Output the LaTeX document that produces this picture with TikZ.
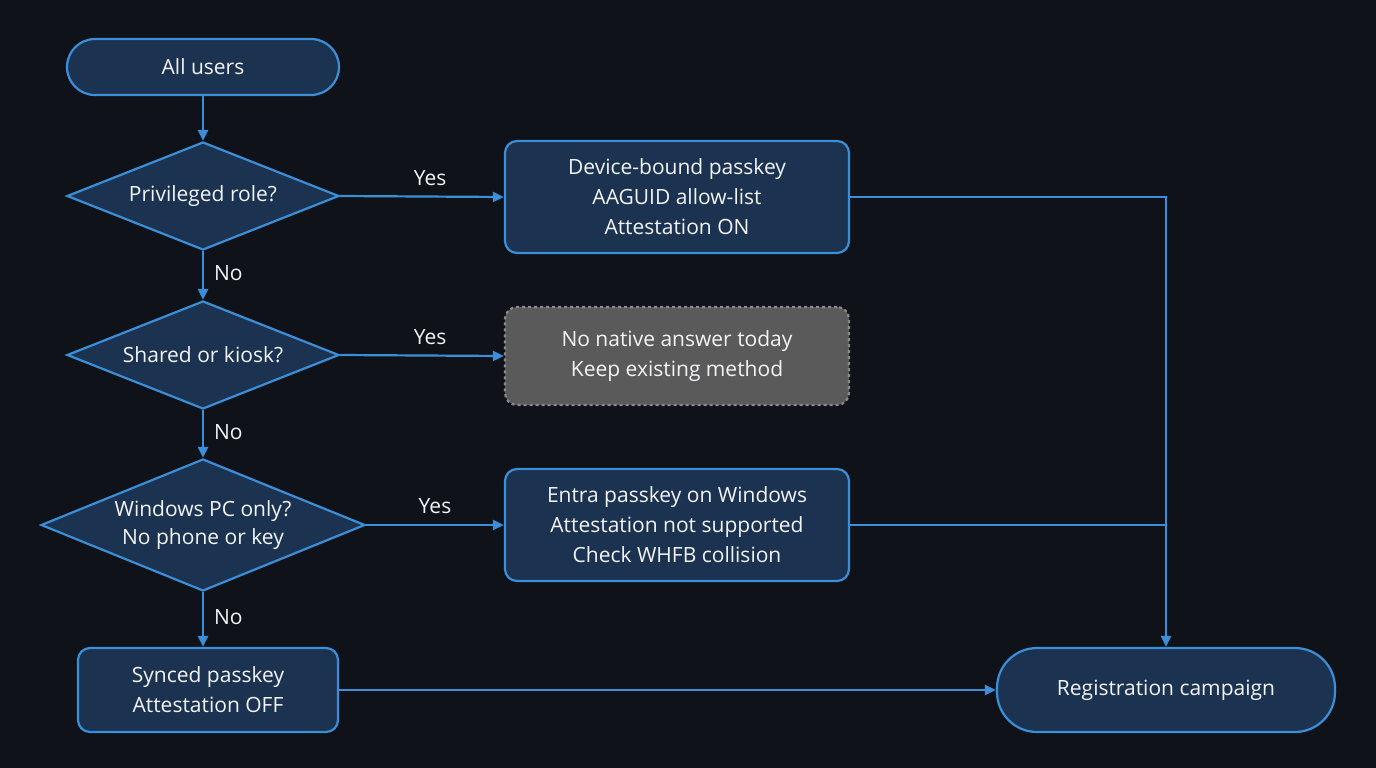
\documentclass[tikz,border=0pt]{standalone}
\usepackage{fontspec}
\setmainfont{Open Sans}
\usetikzlibrary{shapes.geometric,arrows.meta}
\definecolor{bg}{HTML}{0F1218}
\definecolor{nfill}{HTML}{1B3250}
\definecolor{nline}{HTML}{3A8FD8}
\definecolor{gfill}{HTML}{5A5A5A}
\definecolor{gline}{HTML}{8A8A8A}
\definecolor{txt}{HTML}{F2F4F7}
\tikzset{
 base/.style={draw=nline,fill=nfill,line width=2.2pt,text=txt,font=\fontsize{21}{30}\selectfont,align=center,inner sep=0pt},
 term/.style={base,rounded corners=28pt},
 boxn/.style={base,rounded corners=12pt},
 dia/.style={base,diamond},
 lbl/.style={text=txt,font=\fontsize{21}{26}\selectfont,inner sep=0pt},
 con/.style={draw=nline,line width=2.2pt},
 arr/.style={con,-{Triangle[length=11pt,width=10pt]}}
}
\begin{document}
\begin{tikzpicture}[x=1pt,y=-1pt]
\fill[bg] (0,0) rectangle (1376,768);
\useasboundingbox (0,0) rectangle (1376,768);
\node[term,minimum width=272pt,minimum height=56pt] (all) at (203,67) {All users};
\node[dia,minimum width=272pt,minimum height=108pt] (priv) at (203,196) {};
\node[lbl] at (priv.center) {Privileged role?};
\node[boxn,minimum width=344pt,minimum height=112pt] (dev) at (677,197) {Device-bound passkey\\AAGUID allow-list\\Attestation ON};
\node[dia,minimum width=272pt,minimum height=108pt] (shared) at (203,355) {};
\node[lbl] at (shared.center) {Shared or kiosk?};
\node[boxn,draw=gline,fill=gfill,dashed,minimum width=344pt,minimum height=98pt] (none) at (677,356) {No native answer today\\Keep existing method};
\node[dia,minimum width=324pt,minimum height=132pt] (win) at (203,525) {};
\node[lbl,align=center] at (win.center) {Windows PC only?\\[2pt]No phone or key};
\node[boxn,minimum width=344pt,minimum height=112pt] (entra) at (677,525) {Entra passkey on Windows\\Attestation not supported\\Check WHFB collision};
\node[boxn,minimum width=260pt,minimum height=84pt] (sync) at (208,690) {Synced passkey\\Attestation OFF};
\node[term,rounded corners=40pt,minimum width=338pt,minimum height=84pt] (reg) at (1166,690) {Registration campaign};
\coordinate (j1) at (1166,197);
\coordinate (j2) at (1166,525);
\draw[arr] (all) -- (priv);
\draw[arr] (priv) -- node[lbl,right=10pt,pos=0.45]{No} (shared);
\draw[arr] (shared) -- node[lbl,right=10pt,pos=0.45]{No} (win);
\draw[arr] (win.south) -- node[lbl,right=10pt,pos=0.45]{No} (win.south |- sync.north);
\draw[arr] (priv.east) -- node[lbl,above=10pt,pos=0.55]{Yes} (dev.west);
\draw[arr] (shared.east) -- node[lbl,above=10pt,pos=0.55]{Yes} (none.west);
\draw[arr] (win.east) -- node[lbl,above=10pt,pos=0.5]{Yes} (entra.west);
\draw[arr] (dev.east) -- (j1) -- (reg.north);
\draw[con] (entra.east) -- (j2);
\draw[arr] (sync.east) -- (reg.west);
\end{tikzpicture}
\end{document}
